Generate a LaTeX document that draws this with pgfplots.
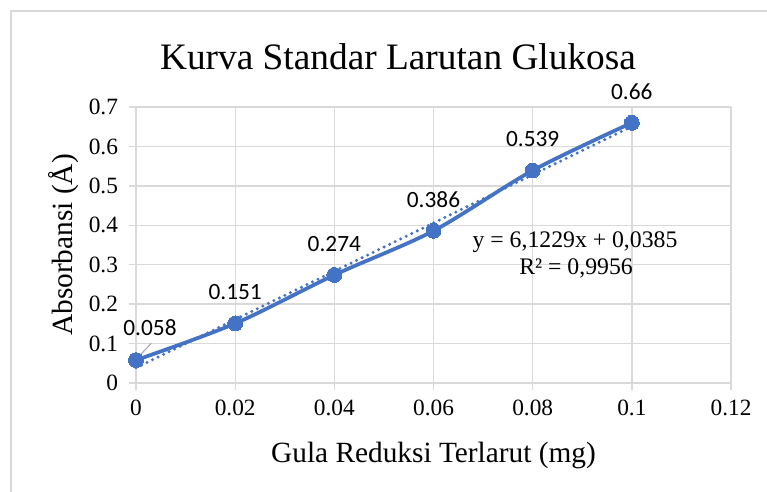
\documentclass[border=0pt]{standalone}
\usepackage{pgfplots}
\pgfplotsset{compat=1.18}
\usepackage{fontspec}
\setmainfont{Liberation Serif}
\newfontfamily\calibri{Carlito}
\definecolor{xlblue}{HTML}{4472C4}
\definecolor{gridc}{HTML}{D9D9D9}
\begin{document}
\begin{tikzpicture}
\useasboundingbox (0,0) rectangle (575.25pt,369pt);
\fill[white] (0,0) rectangle (575.25pt,369pt);
\draw[gridc, line width=1.2pt] (8.25pt,-5pt) -- (8.25pt,360.75pt) -- (590pt,360.75pt);
\begin{axis}[
  at={(102pt,81.75pt)}, anchor=south west,
  scale only axis, width=446.25pt, height=207pt,
  xmin=0, xmax=0.12, ymin=0, ymax=0.7,
  xtick={0,0.02,0.04,0.06,0.08,0.1,0.12},
  ytick={0,0.1,0.2,0.3,0.4,0.5,0.6,0.7},
  scaled x ticks=false, scaled y ticks=false,
  xticklabel style={/pgf/number format/fixed, /pgf/number format/precision=2, yshift=-3.7pt},
  yticklabel style={/pgf/number format/fixed, /pgf/number format/precision=1, xshift=-4.5pt},
  /pgf/number format/assume math mode=true,
  ticklabel style={font=\fontsize{17.5pt}{20pt}\selectfont},
  grid=major,
  major grid style={gridc, line width=1pt},
  axis line style={draw=none},
  tick pos=left, tick align=outside,
  major tick length=5.5pt,
  tick style={gridc, line width=1pt},
  clip=false,
]
\draw[gridc, line width=1pt] (axis cs:0,0) -- (axis cs:0.12,0);
% trendline
\addplot[xlblue, line width=2.5pt, line cap=round, dash pattern=on 0pt off 4.6pt]
  coordinates {(0,0.0385) (0.1,0.65079)};
% data
\addplot[xlblue, line width=2.8pt, smooth, mark=*, mark size=5.6pt,
  mark options={fill=xlblue, draw=xlblue, line width=0pt}]
  coordinates {(0,0.058) (0.02,0.151) (0.04,0.274) (0.06,0.386) (0.08,0.539) (0.1,0.66)};
% data labels
\addplot[draw=none, mark=none, point meta=explicit symbolic,
  nodes near coords,
  nodes near coords style={anchor=center, yshift=23.25pt, font=\calibri\fontsize{17.5pt}{20pt}\selectfont, text=black}]
  coordinates {(0.02,0.151) [0.151] (0.04,0.274) [0.274] (0.06,0.386) [0.386] (0.08,0.539) [0.539] (0.1,0.66) [0.66]};
\addplot[draw=none, mark=none, point meta=explicit symbolic,
  nodes near coords,
  nodes near coords style={anchor=center, xshift=10.5pt, yshift=24.75pt, font=\calibri\fontsize{17.5pt}{20pt}\selectfont, text=black}]
  coordinates {(0,0.058) [0.058]};
\draw[gray!70, line width=0.8pt] (axis cs:0,0.058) ++(1pt,1.5pt) -- ++(10.5pt,11.25pt);
\end{axis}
% title
\node[anchor=base, font=\fontsize{28pt}{32pt}\selectfont] at (298.5pt,316.5pt) {Kurva Standar Larutan Glukosa};
% x label
\node[anchor=base, font=\fontsize{22pt}{26pt}\selectfont] at (325.1pt,21.75pt) {Gula Reduksi Terlarut (mg)};
% y label
\node[anchor=base, rotate=90, font=\fontsize{22pt}{26pt}\selectfont] at (54pt,185.25pt) {Absorbansi (Å)};
% equation
\node[anchor=base, font=\fontsize{17.8pt}{20pt}\selectfont] at (431.25pt,183pt) {y = 6,1229x + 0,0385};
\node[anchor=base, font=\fontsize{17.8pt}{20pt}\selectfont] at (432pt,162.75pt) {R² = 0,9956};
\end{tikzpicture}
\end{document}
